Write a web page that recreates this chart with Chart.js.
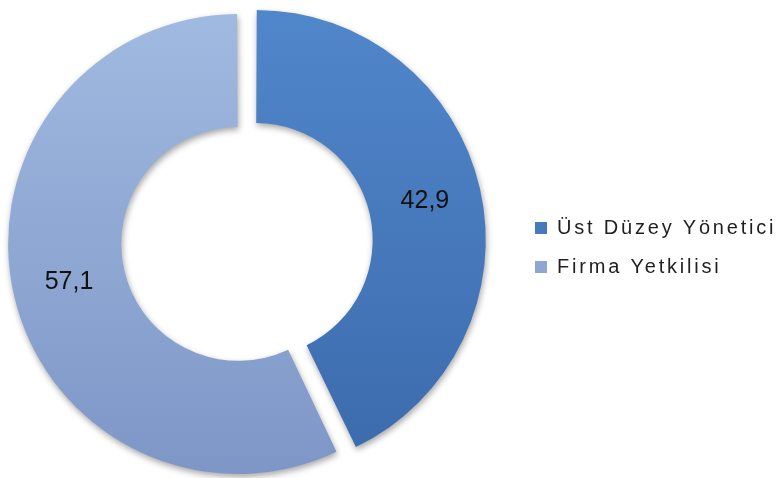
<!DOCTYPE html>
<html>
<head>
<meta charset="utf-8">
<script src="https://cdn.jsdelivr.net/npm/chart.js@4.4.1/dist/chart.umd.min.js"></script>
<style>
  html, body { margin: 0; padding: 0; background: #fff; }
  #chart { display: block; }
</style>
</head>
<body>
<canvas id="chart" width="784" height="478"></canvas>
<script>
var categories = ['Üst Düzey Yönetici', 'Firma Yetkilisi'];
var shares = [42.9, 57.1];
// explode: the dark slice pops out, the light one a little the other way
var sliceOffsets = [46, 26];

var FONT = "'Liberation Sans', Arial, sans-serif";
var RADIUS = 223.5;
var LEGEND_WIDTH = 295;   // keeps the ring centred where the original has it
var LEGEND_SPACING = '2.8px';
var LEGEND_DX = 27;
var LEGEND_DY = 5;

var shades = [
    ['#5086ca', '#3c6bad'],
    ['#a0b9e0', '#7e97c7']
];

function sliceFill(c) {
    var pair = shades[c.dataIndex % shades.length],
        chart = c.chart,
        area = chart.chartArea;
    if (!area) {
        return pair[0];
    }
    var cy = (area.top + area.bottom) / 2,
        g = chart.ctx.createLinearGradient(0, cy - RADIUS, 0, cy + RADIUS);
    g.addColorStop(0, pair[0]);
    g.addColorStop(1, pair[1]);
    return g;
}

// legend: fixed box width, wide lettering like the original
var legendBox = {
    id: 'legendBox',
    beforeUpdate: function (chart) {
        var lg = chart.legend;
        chart.ctx.letterSpacing = LEGEND_SPACING;
        if (lg && !lg._fixedFit) {
            var fit = lg.fit;
            lg.fit = function () {
                fit.call(this);
                this.width = LEGEND_WIDTH;
            };
            lg._fixedFit = true;
        }
    },
    afterLayout: function (chart) {
        var lg = chart.legend;
        lg.left += LEGEND_DX;
        lg.right += LEGEND_DX;
        lg.top += LEGEND_DY;
        lg.bottom += LEGEND_DY;
    },
    beforeDraw: function (chart) {
        chart.ctx.letterSpacing = LEGEND_SPACING;
    }
};

var sliceLabels = {
    id: 'sliceLabels',
    beforeDatasetsDraw: function (chart) {
        var ctx = chart.ctx;
        ctx.save();
        ctx.shadowColor = 'rgba(0,0,0,0.35)';
        ctx.shadowBlur = 6;
        ctx.shadowOffsetX = 1;
        ctx.shadowOffsetY = 3;
    },
    afterDatasetsDraw: function (chart) {
        var ctx = chart.ctx,
            meta = chart.getDatasetMeta(0);
        ctx.restore();
        ctx.save();
        ctx.letterSpacing = '0px';
        ctx.font = '25px ' + FONT;
        ctx.fillStyle = '#111';
        ctx.textAlign = 'center';
        ctx.textBaseline = 'middle';
        meta.data.forEach(function (arc, i) {
            var p = arc.getProps(['x', 'y', 'startAngle', 'endAngle', 'innerRadius', 'outerRadius', 'circumference'], true),
                off = (arc.options.offset || 0) / 4,
                fix = 1 - Math.sin(Math.min(Math.PI, p.circumference)),
                mid = (p.startAngle + p.endAngle) / 2,
                r = (p.innerRadius + p.outerRadius) / 2 + off + off * fix;
            ctx.fillText(shares[i].toFixed(1).replace('.', ','),
                p.x + Math.cos(mid) * r, p.y + Math.sin(mid) * r);
        });
        ctx.restore();
    }
};

new Chart(document.getElementById('chart'), {
    type: 'doughnut',
    data: {
        labels: categories,
        datasets: [{
            data: shares,
            backgroundColor: sliceFill,
            borderWidth: 0,
            offset: sliceOffsets
        }]
    },
    options: {
        responsive: false,
        animation: false,
        events: [],
        cutout: '49.4%',
        radius: RADIUS,
        layout: { padding: { left: 0, top: 7, right: 0, bottom: 0 } },
        plugins: {
            tooltip: { enabled: false },
            legend: {
                position: 'right',
                labels: {
                    boxWidth: 12,
                    boxHeight: 12,
                    padding: 19,
                    color: '#1f1f1f',
                    font: { family: FONT, size: 20 }
                }
            }
        }
    },
    plugins: [legendBox, sliceLabels]
});
</script>
</body>
</html>
